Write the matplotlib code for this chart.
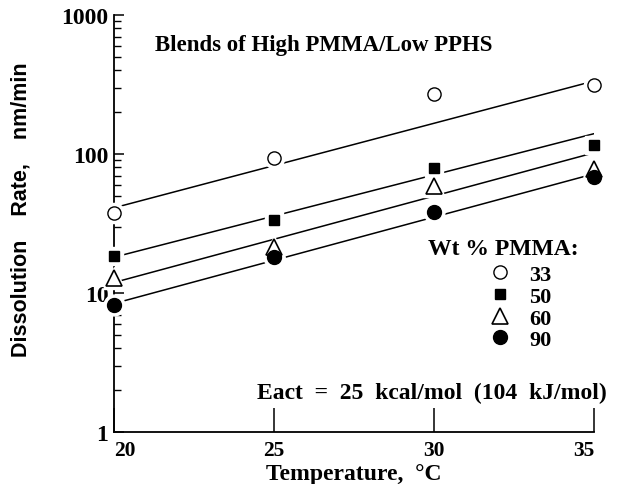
import numpy as np
import matplotlib.pyplot as plt
from matplotlib.ticker import LogLocator, NullFormatter

# Data
temps = [20, 25, 30, 35]
wt_pmma = ["33", "50", "60", "90"]
rate_33 = [37.6, 93.6, 270, 314]
rate_50 = [18.5, 33.5, 79, 116]
rate_60 = [12.8, 21.4, 58.9, 78]
rate_90 = [8.2, 18.2, 38.3, 68.3]

# fitted lines (value at 20 C and 35 C)
fit_t = [20, 35]
fit_33 = [41, 335]
fit_50 = [18.1, 140]
fit_60 = [11.9, 102]
fit_90 = [8.4, 72]

serif = "Liberation Serif"
sans = "Liberation Sans"

fig = plt.figure(figsize=(6.19, 4.85), dpi=100)
ax = fig.add_axes([114 / 619, 52 / 485, 480 / 619, 417 / 485])

styles = [
    dict(marker="o", mfc="white", mec="black", ms=9.5, mew=1.0),
    dict(marker="s", mfc="black", mec="black", ms=7.5, mew=1.0),
    dict(marker="^", mfc="white", mec="black", ms=11, mew=1.2),
    dict(marker="o", mfc="black", mec="black", ms=10, mew=1.0),
]
rates = [rate_33, rate_50, rate_60, rate_90]
fits = [fit_33, fit_50, fit_60, fit_90]

for fit in fits:
    ax.plot(fit_t, fit, color="black", lw=1.1, zorder=2)

for r, st in zip(rates, styles):
    # white halo so the lines break around the symbols
    ax.plot(temps, r, ls="none", marker=st["marker"], ms=st["ms"] + 5,
            mfc="white", mec="white", zorder=3, clip_on=False)
handles = []
for r, st in zip(rates, styles):
    h, = ax.plot(temps, r, ls="none", zorder=4, clip_on=False, **st)
    handles.append(h)

ax.set_yscale("log")
ax.set_ylim(1, 1000)
ax.set_xlim(20, 35)

for s in ["top", "right"]:
    ax.spines[s].set_visible(False)
ax.spines["left"].set_linewidth(1.3)
ax.spines["bottom"].set_linewidth(1.3)

ax.yaxis.set_minor_locator(LogLocator(base=10, subs=np.arange(2, 10), numticks=20))
ax.yaxis.set_minor_formatter(NullFormatter())
ax.set_yticks([1, 10, 100, 1000])
ax.set_yticklabels(["1", "10", "100", "1000"])
ax.set_xticks(temps)
ax.set_xticklabels([str(t) for t in temps])

ax.tick_params(axis="y", which="major", direction="in", length=7, width=1.1, pad=4)
ax.tick_params(axis="y", which="minor", direction="in", length=5, width=1.0)
ax.tick_params(axis="x", which="major", direction="in", length=17, width=1.1, pad=6)
for lbl in ax.get_yticklabels():
    lbl.set_fontfamily(serif)
    lbl.set_fontweight("bold")
    lbl.set_fontsize(17)
for lbl in ax.get_xticklabels():
    lbl.set_fontfamily(serif)
    lbl.set_fontweight("bold")
    lbl.set_fontsize(15.5)
xl = ax.get_xticklabels()
xl[0].set_horizontalalignment("left")
xl[-1].set_horizontalalignment("right")

ax.set_xlabel("Temperature,  °C", fontfamily=serif, fontweight="bold", fontsize=17)
ax.xaxis.set_label_coords(0.5, -0.075)
ax.set_ylabel("Dissolution    Rate,    nm/min", fontfamily=sans, fontweight="bold", fontsize=15.5)
ax.yaxis.set_label_coords(-0.172, 0.535)

ax.text(0.085, 0.93, "Blends of High PMMA/Low PPHS", transform=ax.transAxes,
        fontfamily=serif, fontweight="bold", fontsize=16.5, va="center")
ax.text(0.654, 0.439, "Wt % PMMA:", transform=ax.transAxes,
        fontfamily=serif, fontweight="bold", fontsize=17, va="center")
ax.text(0.298, 0.096, "Eact  =  25  kcal/mol  (104  kJ/mol)", transform=ax.transAxes,
        fontfamily=serif, fontweight="bold", fontsize=17, va="center", clip_on=False)

leg = ax.legend(handles, wt_pmma, loc="upper left",
                bbox_to_anchor=(0.758, 0.428), frameon=False, handlelength=1.0,
                handletextpad=0.8, labelspacing=0.05, borderpad=0,
                prop=dict(family=serif, weight="bold", size=16))

fig.savefig("out.png", dpi=100)
